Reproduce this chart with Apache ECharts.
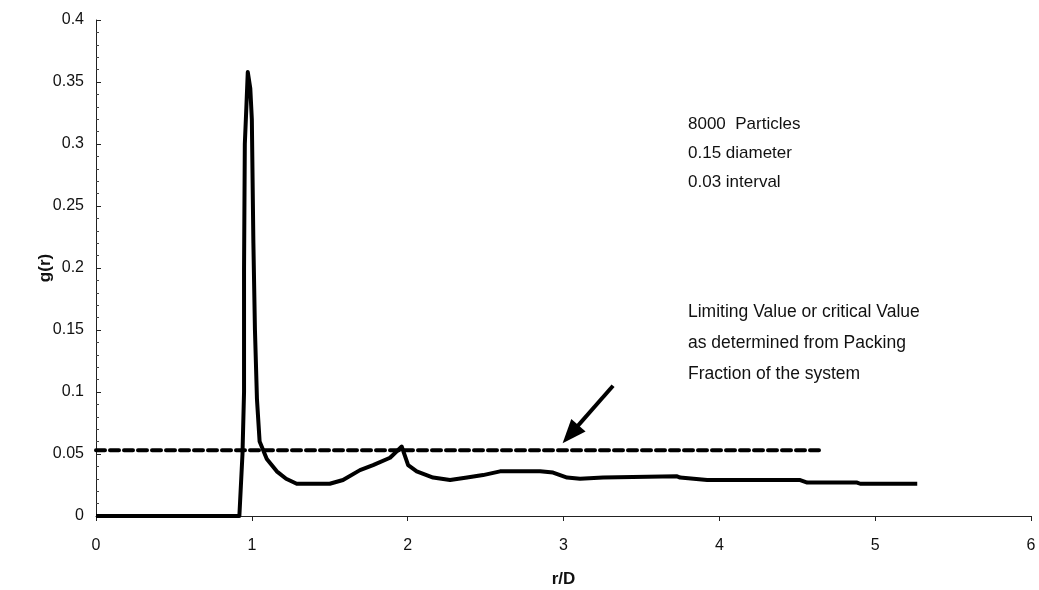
<!DOCTYPE html>
<html>
<head>
<meta charset="utf-8">
<script src="https://cdn.jsdelivr.net/npm/echarts@6/dist/echarts.min.js"></script>
<style>html,body{margin:0;padding:0;background:#fff}#c{width:1039px;height:590px}</style>
</head>
<body>
<div id="c"></div>
<script>
// r/D values and g(r) values of the measured curve
const rValues = [0, 0.92, 0.93, 0.94, 0.95, 0.95, 0.955, 0.965, 0.974, 0.99, 1.0, 1.01, 1.02, 1.033, 1.05, 1.096, 1.16, 1.22, 1.288, 1.50, 1.585, 1.694, 1.778, 1.887, 1.962, 2.003, 2.058, 2.163, 2.272, 2.381, 2.484, 2.593, 2.85, 2.933, 3.023, 3.106, 3.254, 3.729, 3.748, 3.922, 4.519, 4.564, 4.884, 4.904, 5.27];
const gValues = [0, 0, 0, 0.05, 0.1, 0.2, 0.3, 0.33, 0.358, 0.345, 0.32, 0.22, 0.15, 0.094, 0.06, 0.046, 0.036, 0.03, 0.026, 0.026, 0.029, 0.037, 0.041, 0.047, 0.056, 0.041, 0.036, 0.031, 0.029, 0.031, 0.033, 0.036, 0.036, 0.035, 0.031, 0.030, 0.031, 0.032, 0.031, 0.029, 0.029, 0.027, 0.027, 0.026, 0.026];
// limiting / critical value line
const limitX = [0, 4.64];
const limitValue = 0.053;
// arrow: tail and head (data coords)
const arrowTail = [3.318, 0.105];
const arrowHead = [3.045, 0.066];
// annotation texts
const infoLines = ['8000  Particles', '0.15 diameter', '0.03 interval'];
const limitLines = ['Limiting Value or critical Value', 'as determined from Packing', 'Fraction of the system'];
const xTitle = 'r/D';
const yTitle = 'g(r)';

const curve = rValues.map((r, i) => [r, gValues[i]]);
const limitData = limitX.map(x => [x, limitValue]);

const chart = echarts.init(document.getElementById('c'), null, {renderer: 'canvas'});
const font = '"Liberation Sans", Arial, sans-serif';
chart.setOption({
  animation: false,
  backgroundColor: '#fff',
  grid: {left: 96, top: 20, right: 8, bottom: 74, containLabel: false, outerBoundsMode: 'none'},
  xAxis: {
    type: 'value', min: 0, max: 6, interval: 1,
    name: xTitle, nameLocation: 'middle', nameGap: 55, nameMoveOverlap: false,
    nameTextStyle: {fontFamily: font, fontSize: 17, fontWeight: 'bold', color: '#111'},
    axisLine: {lineStyle: {color: '#222', width: 1}},
    axisTick: {show: true, length: 5, lineStyle: {color: '#222'}},
    axisLabel: {fontFamily: font, fontSize: 16, color: '#111', margin: 22},
    splitLine: {show: false}
  },
  yAxis: {
    type: 'value', min: 0, max: 0.4, interval: 0.05,
    name: yTitle, nameLocation: 'middle', nameGap: 42, nameRotate: 90, nameMoveOverlap: false,
    nameTextStyle: {fontFamily: font, fontSize: 17, fontWeight: 'bold', color: '#111'},
    axisLine: {show: true, lineStyle: {color: '#222', width: 1}},
    axisTick: {show: true, inside: true, length: 5, lineStyle: {color: '#222'}},
    minorTick: {show: true, splitNumber: 5, length: 3, lineStyle: {color: '#444'}},
    axisLabel: {fontFamily: font, fontSize: 16, color: '#111', margin: 12},
    splitLine: {show: false}
  },
  series: [
    {
      type: 'line', data: curve, symbol: 'none',
      lineStyle: {color: '#000', width: 4, join: 'round'},
      z: 3
    },
    {
      type: 'line', data: limitData, symbol: 'none',
      lineStyle: {color: '#000', width: 4, type: [9, 5], cap: 'round'},
      markLine: {
        silent: true, animation: false,
        symbol: ['none', 'triangle'],
        label: {show: false},
        lineStyle: {color: '#000', width: 4, type: 'solid'},
        data: [[{coord: arrowTail, symbol: 'none'}, {coord: arrowHead, symbol: 'triangle', symbolSize: [19, 24]}]]
      },
      z: 2
    }
  ],
  graphic: [
    {type: 'text', left: 688, top: 110, style: {text: infoLines.join('\n'), font: '17px ' + font, fill: '#111', lineHeight: 29}},
    {type: 'text', left: 688, top: 297, style: {text: limitLines.join('\n'), font: '17.5px ' + font, fill: '#111', lineHeight: 31}}
  ]
});
</script>
</body>
</html>
